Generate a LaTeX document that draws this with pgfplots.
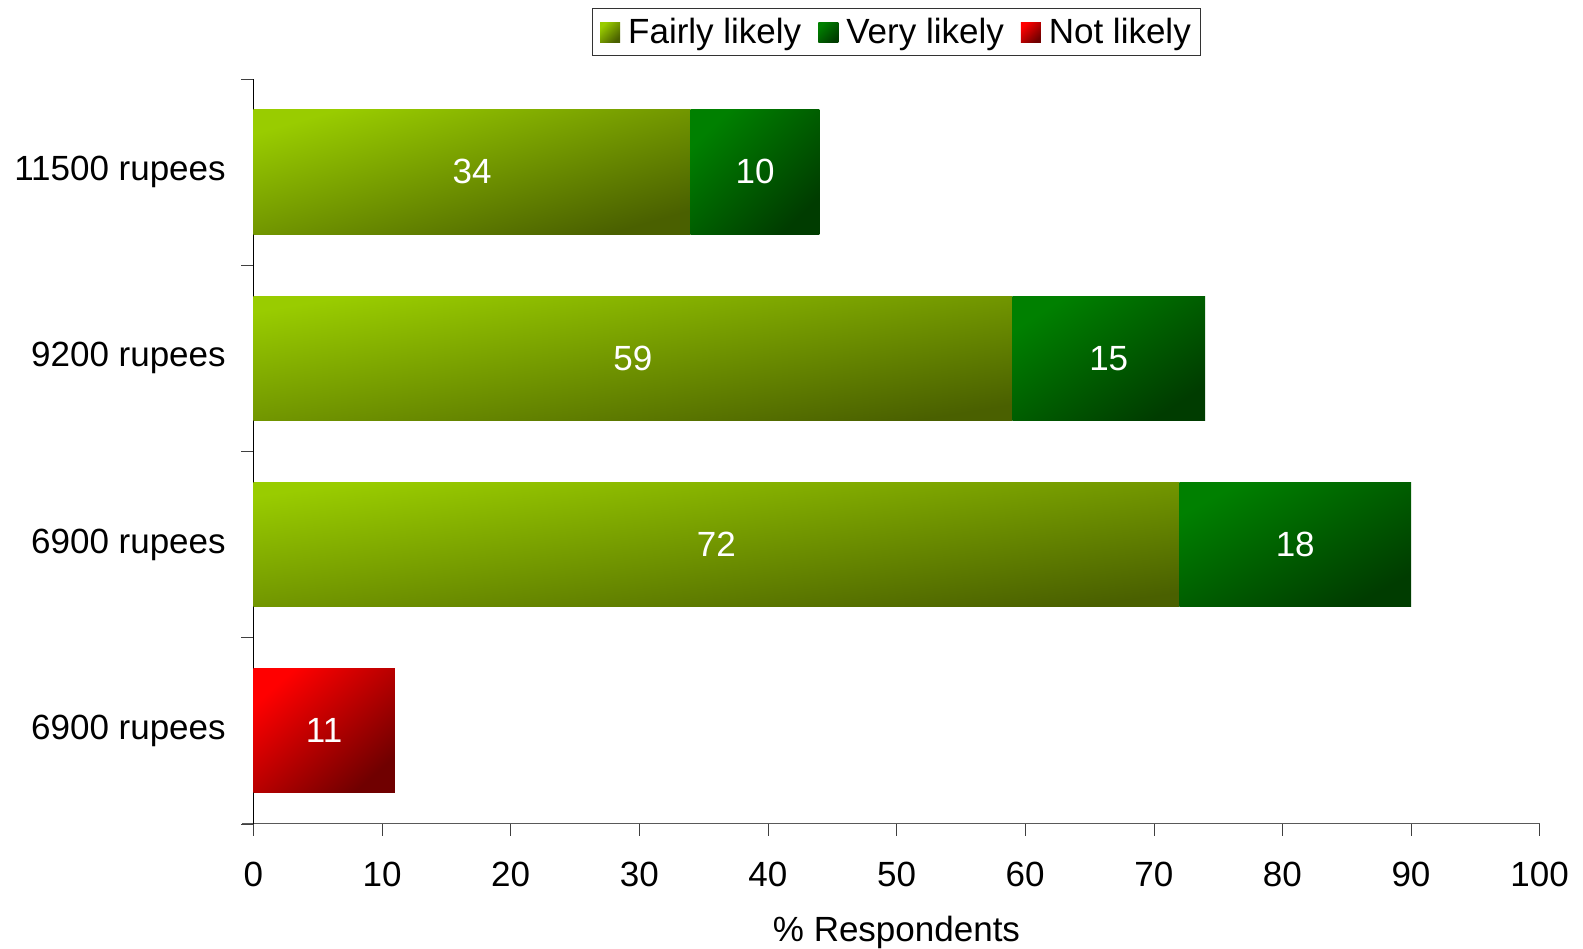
\documentclass[border=0pt]{standalone}
\usepackage{fontspec}
\setmainfont{Liberation Sans}
\usepackage{pgfplots}
\pgfplotsset{compat=1.18}
\definecolor{fairlyA}{HTML}{99CC00}
\definecolor{fairlyB}{HTML}{4A6000}
\definecolor{veryA}{HTML}{008000}
\definecolor{veryB}{HTML}{003C00}
\definecolor{redA}{HTML}{FF0000}
\definecolor{redB}{HTML}{700000}
\pgfdeclarehorizontalshading{fairlysh}{100bp}{color(0bp)=(fairlyA); color(25bp)=(fairlyA); color(75bp)=(fairlyB); color(100bp)=(fairlyB)}
\pgfdeclarehorizontalshading{verysh}{100bp}{color(0bp)=(veryA); color(25bp)=(veryA); color(75bp)=(veryB); color(100bp)=(veryB)}
\pgfdeclarehorizontalshading{redsh}{100bp}{color(0bp)=(redA); color(25bp)=(redA); color(75bp)=(redB); color(100bp)=(redB)}
\newcommand\lblfont{\fontsize{17.5}{21}\selectfont}
% shading angle chosen per bar so that the gradient runs corner to corner
\pgfplotsset{
  fairly/.style={draw=none, shade, shading=fairlysh, shading angle=#1},
  fairly/.default=-45,
  very/.style={draw=none, shade, shading=verysh, shading angle=#1},
  very/.default=-45,
  notl/.style={draw=none, shade, shading=redsh, shading angle=#1},
  notl/.default=-45,
}
\begin{document}
\begin{tikzpicture}
\useasboundingbox (0,0) rectangle (791.5pt,474pt);
\begin{axis}[
  at={(126.7pt,62.1pt)}, anchor=south west,
  scale only axis, width=643.1pt, height=372.5pt,
  xmin=0, xmax=100, ymin=-0.5, ymax=3.5,
  xtick={0,10,...,100},
  ytick={-0.5,0.5,1.5,2.5,3.5},
  yticklabels={},
  extra y ticks={0,1,2,3},
  extra y tick labels={6900 rupees,6900 rupees,9200 rupees,11500 rupees},
  extra y tick style={tick style={draw=none}},
  axis x line*=bottom, axis y line*=left,
  axis line style={-},
  x axis line style={shorten <=-5.5pt, draw=black!65},
  y axis line style={draw=black},
  tick align=outside,
  major tick length=6pt,
  tick style={draw=black!75},
  tick label style={font=\lblfont},
  /pgf/number format/assume math mode=true,
  xticklabel style={yshift=-9.4pt},
  yticklabel style={xshift=-4.3pt},
  xlabel={\% Respondents},
  xlabel style={at={(axis description cs:0.5,0)}, anchor=base, yshift=-59pt, font=\lblfont},
  legend columns=3,
  legend style={at={(0.5,1)}, anchor=south, yshift=11.6pt, draw=black!80,
    font=\lblfont, inner xsep=3.8pt, inner ysep=2.5pt,
    nodes={inner xsep=1pt},
    /tikz/every odd column/.append style={column sep=3pt},
    /tikz/every even column/.append style={column sep=7.5pt}},
  legend image code/.code={\path[#1, shading angle=-45] (0pt,-5pt) rectangle (10pt,5pt);},
]
% bars: (start, category-h) -- (end, category+h)
\addplot[fairly=-74.14] coordinates {(0,2.6665) (34,2.6665) (34,3.3335) (0,3.3335)} -- cycle;
\addplot[very=-46.0]    coordinates {(34,2.6665) (44,2.6665) (44,3.3335) (34,3.3335)} -- cycle;
\addplot[notl=-48.72]   coordinates {(0,-0.3335) (11,-0.3335) (11,0.3335) (0,0.3335)} -- cycle;
\addplot[fairly=-80.70, forget plot] coordinates {(0,1.6665) (59,1.6665) (59,2.3335) (0,2.3335)} -- cycle;
\addplot[very=-57.23, forget plot]   coordinates {(59,1.6665) (74,1.6665) (74,2.3335) (59,2.3335)} -- cycle;
\addplot[fairly=-82.36, forget plot] coordinates {(0,0.6665) (72,0.6665) (72,1.3335) (0,1.3335)} -- cycle;
\addplot[very=-61.79, forget plot]   coordinates {(72,0.6665) (90,0.6665) (90,1.3335) (72,1.3335)} -- cycle;
% value labels at segment centres
\addplot[draw=none, forget plot, nodes near coords, point meta=explicit symbolic,
  nodes near coords align={center},
  every node near coord/.append style={font=\lblfont, text=white}]
  coordinates {(17,3) [34] (39,3) [10] (29.5,2) [59] (66.5,2) [15]
               (36,1) [72] (81,1) [18] (5.5,0) [11]};
\legend{Fairly likely, Very likely, Not likely}
\end{axis}
\end{tikzpicture}
\end{document}
